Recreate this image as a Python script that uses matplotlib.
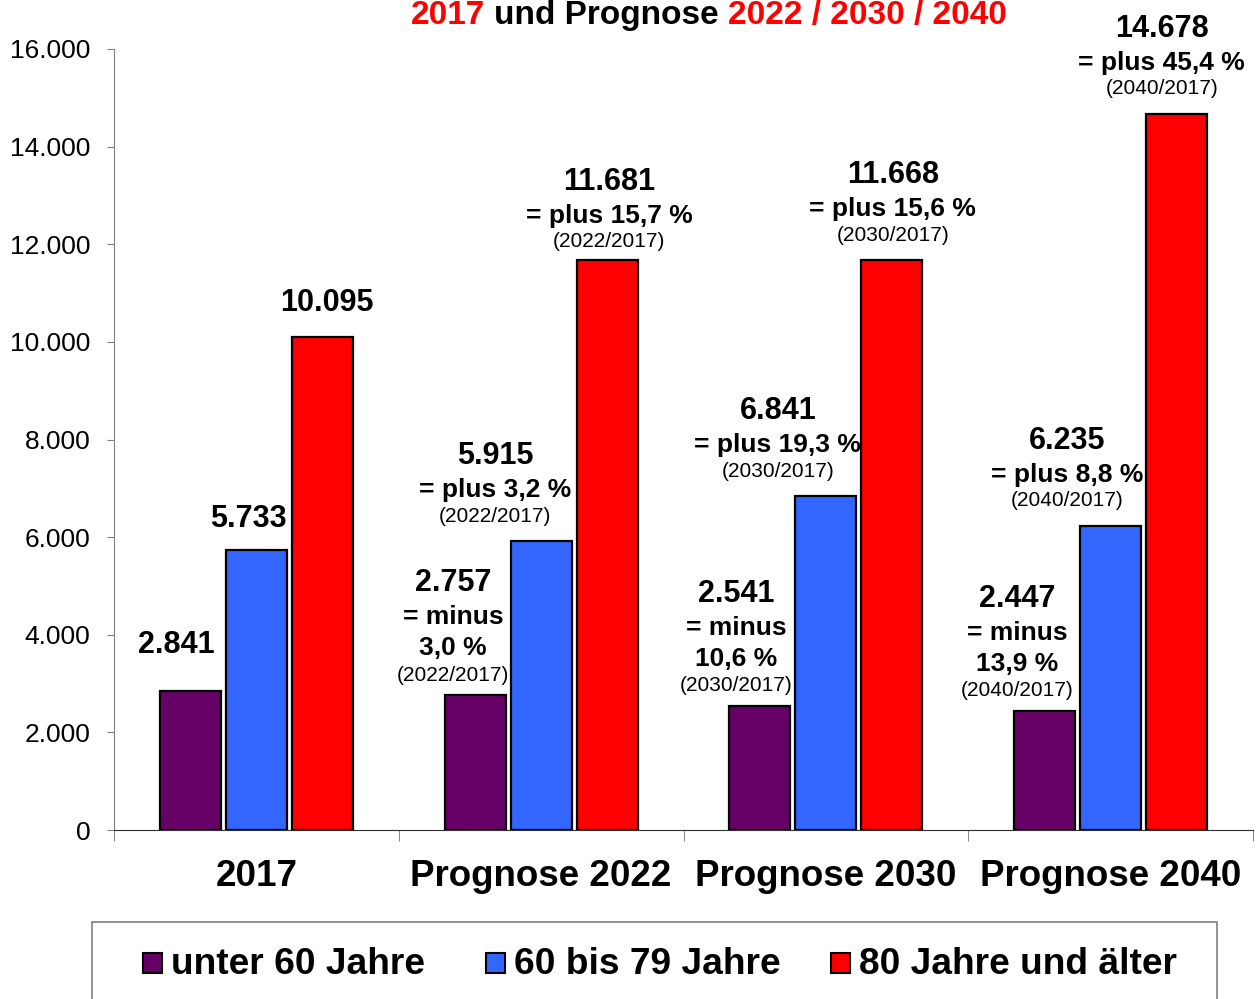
import numpy as np
import matplotlib.pyplot as plt
from matplotlib.patches import Rectangle

plt.rcParams['font.family'] = ['Liberation Sans', 'DejaVu Sans']

categories = ['2017', 'Prognose 2022', 'Prognose 2030', 'Prognose 2040']
years = ['2017', '2022', '2030', '2040']
series = ['unter 60 Jahre', '60 bis 79 Jahre', '80 Jahre und älter']
unter60 = [2841, 2757, 2541, 2447]
age60_79 = [5733, 5915, 6841, 6235]
age80 = [10095, 11681, 11668, 14678]
colors = ['#660066', '#3366ff', '#ff0000']
values = [unter60, age60_79, age80]

# label nudges in pixels (x per bar, y for the whole block)
dx = [[-14, -22, -24, -27], [-8, -46, -48, -43], [4, 2, 1, -15]]
dy = [[12, 0, 0, 0], [-3, 0, 0, 0], [0, -7, 0, 0]]


def de(v):
    return f'{v:,}'.replace(',', '.')


def pct(v):
    return f'{abs(v):.1f}'.replace('.', ',') + ' %'


W, H = 1260, 999
fig = plt.figure(figsize=(W / 100, H / 100), dpi=100)
ax = fig.add_axes([114 / W, 1 - 830 / H, (1253 - 114) / W, (830 - 49) / H])

x = np.arange(len(categories))
width = 0.214
step = 0.232
for k in range(3):
    ax.bar(x + (k - 1) * step, values[k], width, color=colors[k],
           edgecolor='black', linewidth=1.6, label=series[k], zorder=3)

ax.set_xlim(-0.5, 3.5)
ax.set_ylim(0, 16000)
yt = np.arange(0, 16001, 2000)
ax.set_yticks(yt)
ax.set_yticklabels([de(v) for v in yt], fontsize=19)
ax.tick_params(axis='y', length=5, color='#808080', pad=12)
ax.set_xticks(x)
ax.set_xticklabels(categories, fontsize=26.5, fontweight='bold')
ax.tick_params(axis='x', length=0, pad=21)
ax.set_xticks(np.arange(-0.5, 3.6, 1), minor=True)
ax.tick_params(axis='x', which='minor', length=8, color='#707070')
for s in ['top', 'right']:
    ax.spines[s].set_visible(False)
ax.spines['left'].set_color('#808080')
ax.spines['bottom'].set_color('#303030')

# value labels
for k in range(3):
    for i in range(4):
        bx = x[i] + (k - 1) * step
        v = values[k][i]
        def put(txt, off, size, weight):
            ax.annotate(txt, (bx, v), xytext=(dx[k][i], off + dy[k][i]),
                        textcoords='offset pixels', ha='center', va='center',
                        fontsize=size, fontweight=weight)
        if i == 0:
            put(de(v), 34, 22, 'bold')
            continue
        ch = (v / values[k][0] - 1) * 100
        ref = '(' + years[i] + '/' + years[0] + ')'
        if ch < 0:
            put(de(v), 112, 22, 'bold')
            put('= minus', 78, 19, 'bold')
            put(pct(ch), 47, 19, 'bold')
            put(ref, 20, 15, 'normal')
        else:
            put(de(v), 85, 22, 'bold')
            put('= plus ' + pct(ch), 51, 19, 'bold')
            put(ref, 25, 15, 'normal')

# title (sits right at the top edge, as in the source)
renderer = fig.canvas.get_renderer()
parts = [('2017', 'red'), ('und Prognose', 'black'), ('2022 / 2030 / 2040', 'red')]
ty = 1 - 24 / H
tsize = 24
tmp = fig.text(0, ty, 'x x', fontsize=tsize, fontweight='bold')
w1 = tmp.get_window_extent(renderer).width
tmp.set_text('xx')
sp = w1 - tmp.get_window_extent(renderer).width
tmp.remove()
texts = []
widths = []
for txt, col in parts:
    t = fig.text(0, ty, txt, fontsize=tsize, fontweight='bold', color=col,
                 ha='left', va='baseline')
    texts.append(t)
    widths.append(t.get_window_extent(renderer).width)
total = sum(widths) + sp * (len(parts) - 1)
cx = 709 - total / 2
for t, w in zip(texts, widths):
    t.set_x(cx / W)
    cx += w + sp

# legend box
fig.patches.append(Rectangle((92 / W, 1 - 1010 / H), (1217 - 92) / W, 88 / H,
                             transform=fig.transFigure, fill=False,
                             edgecolor='#808080', linewidth=1.2))
lx = [143, 486, 831]
for k in range(3):
    fig.patches.append(Rectangle((lx[k] / W, 1 - 973 / H), 19 / W, 20 / H,
                                 transform=fig.transFigure, facecolor=colors[k],
                                 edgecolor='black', linewidth=1.5))
    fig.text((lx[k] + 28) / W, 1 - 964 / H, series[k], fontsize=26.7,
             fontweight='bold', ha='left', va='center')

fig.savefig('out.png', dpi=100)
